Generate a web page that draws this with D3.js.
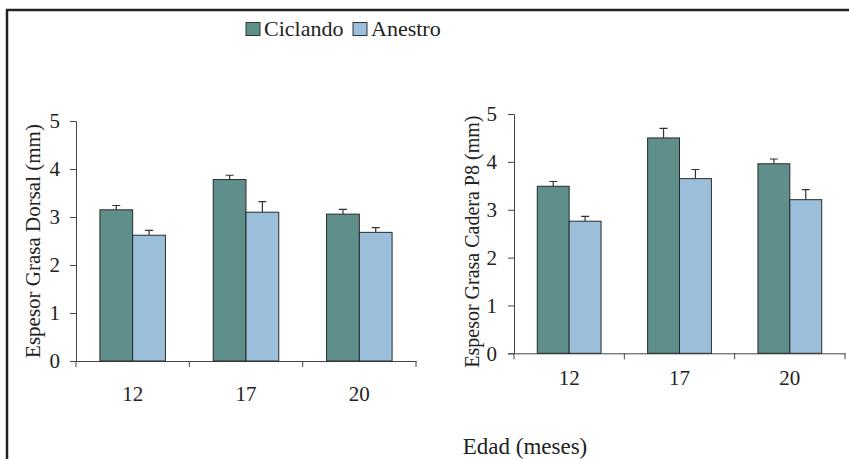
<!DOCTYPE html>
<html>
<head>
<meta charset="utf-8">
<script src="https://cdn.jsdelivr.net/npm/d3@7"></script>
<style>
  body { margin: 0; background: #fff; }
  text { font-family: "Liberation Serif", "Times New Roman", serif; fill: #222; }
</style>
</head>
<body>
<div id="chart"></div>
<script>
var edades = ["12", "17", "20"];
var series = ["Ciclando", "Anestro"];
var colores = ["#5f8f8b", "#9bbfda"];
var yTicks = [0, 1, 2, 3, 4, 5];

// Espesor grasa dorsal (mm)
var dorsalCiclando = [3.15, 3.78, 3.06];
var dorsalAnestro  = [2.62, 3.10, 2.68];
var dorsalErrCicl  = [0.09, 0.09, 0.10];
var dorsalErrAnes  = [0.10, 0.22, 0.10];

// Espesor grasa cadera P8 (mm)
var caderaCiclando = [3.49, 4.50, 3.96];
var caderaAnestro  = [2.76, 3.65, 3.21];
var caderaErrCicl  = [0.10, 0.20, 0.10];
var caderaErrAnes  = [0.10, 0.19, 0.21];

var svg = d3.select("#chart").append("svg")
    .attr("width", 849).attr("height", 459);

// marco
svg.append("path")
    .attr("d", "M7,470 L7,10 L860,10")
    .attr("fill", "none").attr("stroke", "#222").attr("stroke-width", 2.5);

function panel(opts) {
  var g = svg.append("g").attr("transform", `translate(${opts.left}, ${opts.top})`);
  var x = d3.scaleBand().domain(edades).range([0, opts.width]);
  var xs = d3.scaleBand().domain(series).range([0, x.bandwidth()]).paddingOuter(0.73);
  var y = d3.scaleLinear().domain([0, 5]).range([opts.height, 0]);

  var rows = edades.map(function(e, i) {
    return series.map(function(s, j) {
      return {edad: e, serie: s, j: j, v: opts.vals[j][i], err: opts.errs[j][i]};
    });
  });

  // y axis
  var ya = g.append("g").call(d3.axisLeft(y).tickValues(yTicks).tickFormat(d3.format("d"))
      .tickSize(6).tickPadding(opts.ypad));
  ya.select(".domain").attr("stroke", "#444");
  ya.selectAll(".tick line").attr("stroke", "#444");
  ya.selectAll("text").style("font-size", "21px").style("font-family", "Liberation Serif").attr("fill", "#222");

  // x axis line with ticks at category boundaries
  var xa = g.append("g").attr("transform", `translate(0, ${opts.height})`)
      .call(d3.axisBottom(x).tickSize(0).tickPadding(opts.xpad));
  xa.select(".domain").attr("stroke", "#444");
  xa.selectAll("text").style("font-size", "21px").style("font-family", "Liberation Serif").attr("fill", "#222");
  var bounds = edades.map(function(e) { return x(e); }).concat([opts.width]);
  g.selectAll("line.sep").data(bounds).enter().append("line")
      .attr("class", "sep")
      .attr("x1", function(d) { return d; }).attr("x2", function(d) { return d; })
      .attr("y1", opts.height).attr("y2", opts.height + 6)
      .attr("stroke", "#444");

  var grp = g.selectAll("g.grp").data(rows).enter().append("g")
      .attr("transform", function(d) { return `translate(${x(d[0].edad)}, 0)`; });

  // error bars (upper only)
  grp.selectAll("path.err").data(function(d) { return d; }).enter().append("path")
      .attr("class", "err")
      .attr("d", function(d) {
        var cx = xs(d.serie) + xs.bandwidth() / 2;
        return `M${cx},${y(d.v)} V${y(d.v + d.err)} M${cx - 4},${y(d.v + d.err)} H${cx + 4}`;
      })
      .attr("fill", "none").attr("stroke", "#333").attr("stroke-width", 1.2);

  grp.selectAll("rect").data(function(d) { return d; }).enter().append("rect")
      .attr("x", function(d) { return xs(d.serie); })
      .attr("y", function(d) { return y(d.v); })
      .attr("width", xs.bandwidth())
      .attr("height", function(d) { return y(0) - y(d.v); })
      .attr("fill", function(d) { return colores[d.j]; })
      .attr("stroke", "#2a2a2a").attr("stroke-width", 1);

  // y title
  g.append("text")
      .attr("transform", "rotate(-90)")
      .attr("x", -opts.height / 2 + opts.titleDy)
      .attr("y", opts.titleX)
      .attr("text-anchor", "middle")
      .style("font-size", opts.titleSize + "px")
      .text(opts.title);
}

panel({left: 76, top: 121, width: 340, height: 240, ypad: 10, xpad: 25,
       vals: [dorsalCiclando, dorsalAnestro], errs: [dorsalErrCicl, dorsalErrAnes],
       title: "Espesor Grasa Dorsal (mm)", titleX: -36, titleDy: 0, titleSize: 21});

panel({left: 514, top: 114, width: 331, height: 239.3, ypad: 11, xpad: 17,
       vals: [caderaCiclando, caderaAnestro], errs: [caderaErrCicl, caderaErrAnes],
       title: "Espesor Grasa Cadera P8 (mm)", titleX: -35, titleDy: -8, titleSize: 20});

// legend
var legend = svg.append("g").attr("transform", "translate(246, 22)");
var lx = [0, 107];
series.forEach(function(s, i) {
  legend.append("rect").attr("x", lx[i]).attr("y", 0.5).attr("width", 14).attr("height", 13)
      .attr("fill", colores[i]).attr("stroke", "#333").attr("stroke-width", 1);
  legend.append("text").attr("x", lx[i] + 18).attr("y", 14)
      .style("font-size", "22px").text(s);
});

svg.append("text").attr("x", 525).attr("y", 454).attr("text-anchor", "middle")
    .style("font-size", "23px").text("Edad (meses)");
</script>
</body>
</html>
